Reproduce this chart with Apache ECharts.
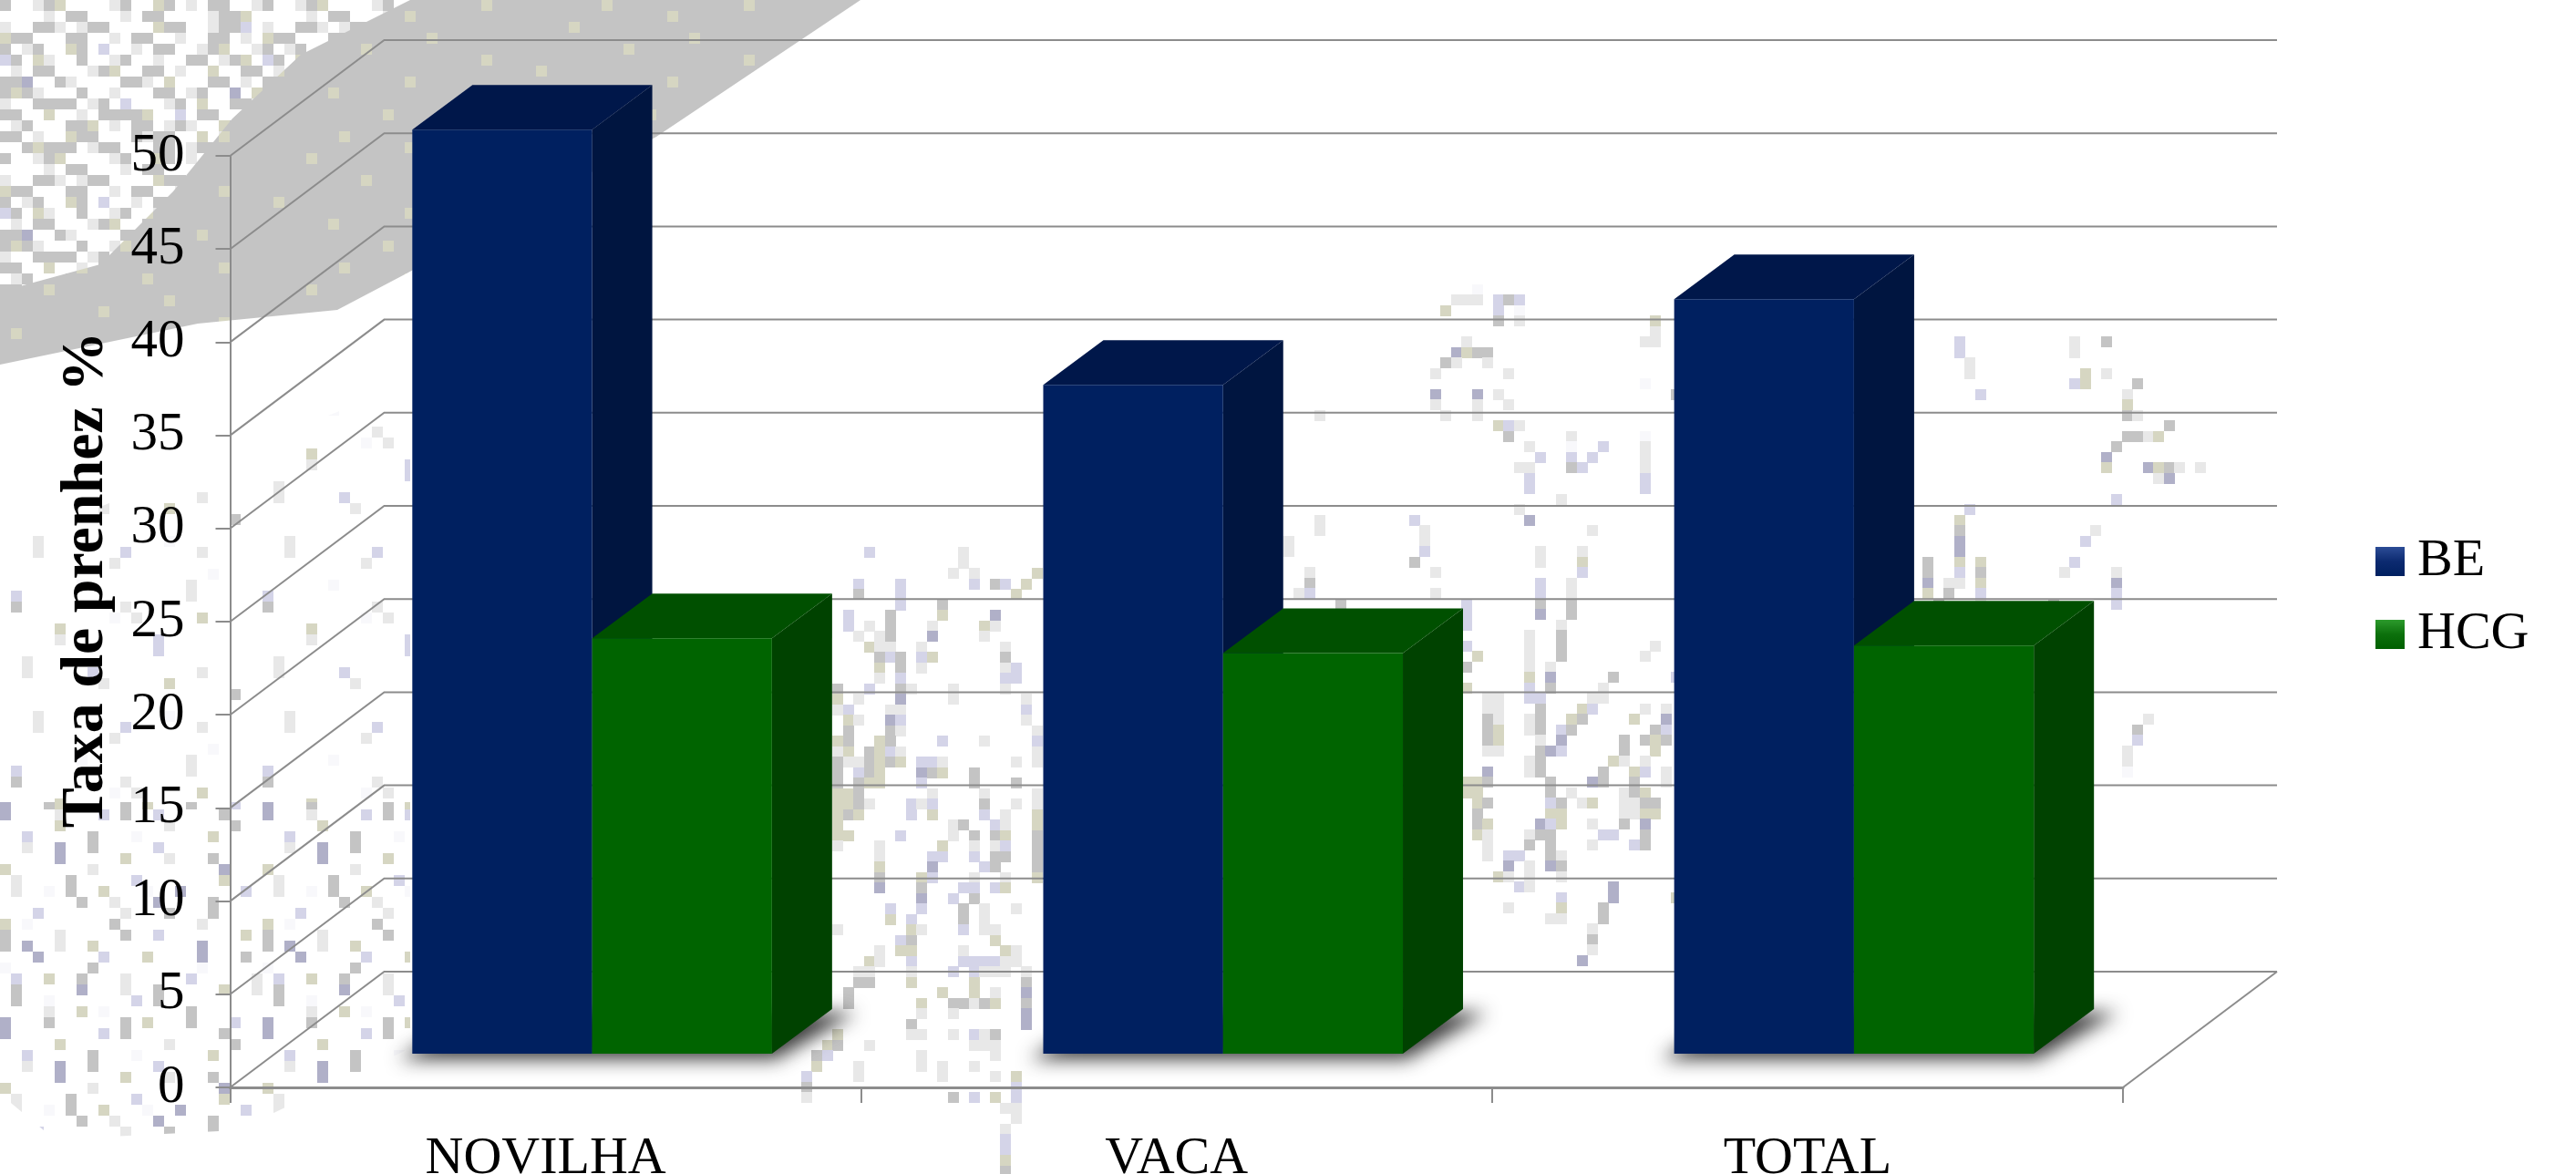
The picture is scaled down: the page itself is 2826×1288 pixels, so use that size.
<!DOCTYPE html>
<html>
<head>
<meta charset="utf-8" />
<title>Taxa de prenhez</title>
<script type="text/javascript" src="https://cdn.jsdelivr.net/npm/echarts@6/dist/echarts.min.js"></script>
<style>
	html,body{margin:0;padding:0;background:#fff;}
	#chart{width:2826px;height:1288px;}
</style>
</head>
<body>
<div id="chart"></div>
<script type="text/javascript">
	var categories = ['NOVILHA','VACA','TOTAL'];
	var seriesNames = ['BE','HCG'];
	var beValues = [49.6,35.9,40.5];
	var hcgValues = [22.3,21.5,21.9];
	var yTicks = [0,5,10,15,20,25,30,35,40,45,50];

	//perspectiva: deslocamento da parede do fundo e da base das barras
	var wallDx = 169, wallDy = -127;
	var barDx = 51, barDy = -37;
	var depthDx = 66, depthDy = -49;
	var serif = '"Liberation Serif","Times New Roman",serif';
	var lineColor = '#8c8c8c';

	//textura do fundo (imagem de baixa resolucao atras do grafico)
	var noiseColors = {g:'#c4c4c4',k:'#d6d6c2',l:'#d4d4e8',w:'#ffffff',e:'#e8e8e8',d:'#b0b0c8',f:'#f8f8fb'};
	var cell = 11.5;
	var tileSolid = [
		'gggggggkggggggggggggkggg','gggggggggggggkgggggggggg','ggggkggggggggggggggggggg','gggggggggggggggkgggggggg',
		'gggggggggkgggggggggggggg','ggggggggggggggggggggkggg','gkgggggggggggggggggggggg','gggggggggggggkgggggggggg',
		'ggggggkggggggggggggggggg','ggggggggggggggggggkggggg','gggggggggggkgggggggggggg','gggggggggggggggggggggggg'
	];
	var tileDense = [
		'gwwegkwwwwegwwkgwewggwwe','wwwwewggwwwewggwwwweggkw','ewwggeweggwwwwkggwwegglw','kggwwwggwwewggwwewwggwew',
		'gwegwwkgwlwwewggwwegkwwe','lgwkewwgwwegwwewwggwegkw','wewggwwwegkwwggwewwkwwgg','ggdwwgewwwwggewkwwwggwew',
		'gkgewwwgwwewwwggwegwwdwk','ewwggggwegwlwwwegwkwwgge','ggwwkwwewggggkwwlwggwwwk','wegwwwggkwewggwegewwkggg',
		'ggwewwkggwwwgeggwwkwewgg','wwgkgggweggwwwggwegggwwg'
	];
	var tileMedium = [
		'.e....g.....l.......k...','.e..f.g..k...f..d.....l.','.......g..e...d....g....','...l.......e...g...g....',
		'k.f.......g.......e.....','g....e.....g..l.......k.','g.d..e..k.........d.....','...d.....l...k....d...g.',
		'f.......g.........f.....','.l..k..g...e.....l.....e','.g.....d...e..g.....k..e','.g..f.......l.g.........',
		'....e..k.f.......g......','d...g......g.k...g...l..','d........l.g........g...','.....k.........e.....g..',
		'..l.....g...f......k....','..e..d..g.....l.........','.....d.....k...e...g....','k.......e...........d...'
	];
	var tileSparse = [
		'.......................','...e...........f.......','...e.......l......e....','..........e............',
		'...................f...','.......f.........e.....','.l...............e.....','.g.........e...........',
		'..........f.e.....k....','.....k.................','.....e........l........','..............l........',
		'..e....................','..e.....l.........e....','.........e.....k.......','.....................g.'
	];
	//regioes da textura: [tile, poligono]
	var noiseAreas = [
		[tileSolid,[[0,0],[944,0],[720,150],[446,300],[370,340],[217,355],[0,400]]],
		[tileDense,[[0,0],[450,0],[330,60],[255,130],[190,210],[110,290],[0,320]]],
		[tileSparse,[[0,600],[450,420],[450,900],[0,900]]],
		[tileMedium,[[0,880],[450,880],[450,1150],[260,1240],[60,1250],[0,1200]]]
	];
	//manchas lidas uma a uma, por linha: "coluna+cor"
	var speckOriginA = [913,600];
	var specksA = [
		'3l 12e','12e','11e 13e 19k','2l 6l 13l 15g 16l 18k','2g 6l 17k','6l 10g','1l 5g 10k 15d','1l 3e 5g 9e 14k 15e',
		'2e 4e 5g 9d 14e','3k 4e 5e 8e 16e','4g 5l 6g 8l 9k 16g','4k 6g 8e 16e 17l','4e 6l 16l 17l','0g 3l 6g 7e 11e 16e',
		'0k 2e 6d 11e 18e','0e 1l 5e 6e 18l','1k 2e 5d 6l 18e','1g 5g 6e 19e','0k 1g 4k 5g 10l 14e 19l','0e 1k 3g 4k 5l 6e 19e',
		'0g 1e 2e 3g 4k 5g 6k 8l 9l 10e 17e 19e','0g 2l 3g 4k 8d 9g 10k 13g','0g 2g 3k 4k 8l 13g 17g','0k 1k 2g 9e 14e 19e',
		'0k 1k 2g 3e 7l 8e 9l 14g 17e 19e','0k 1g 2k 7l 9k 14l 16e 19k','0k 11e 12g 15l 16e 19k','0k 1k 6l 11e 13g 15g 16k 19g',
		'0e 4e 10k 13e 15e 16l 19g','4e 9l 10l 13l 15g 16g 19g','4k 9d 14l 15g 19g','4g 8k 9l 13e 16e 19k','4d 8g 12l 13l 15l 16k',
		'8d 11l 13g','5l 8l 12g 14e 17e','5k 7l 12g 14e','0e 7k 8e 12l 14e 15e','6l 7g 15k','4e 6k 7k 12e 16k 17e',
		'3k 4e 7l 12l 13l 14l 15l 16e 17e','2e 3e 7e 11l 13l 14e 15e 16e 18e','2g 3g 7k 13k 18g','1g 10k 13k 15e 18d',
		'1g 8k 11g 12g 13e 14g 15k 18g','8e 11e 18d','7g 18d','0k 7e 8e 11e 13l 14e 15g','-1k 0g 3e 13e 14e 15e',
		'-2g -1l 8e 15e','-2k 2e 8e 10e 13e','-3l 2e 10e 15e 17k','-3g 17l','-3e 11g 13l 15k 17l','16e 17e','17e','16e','16l','16l','16k','16g'
	];
	var speckOriginB = [1350,300];
	var specksB = [
		'','23f','21e 22e 23e 25l 26g 27l','20k 25l 27f','25g 27e 40k','40e','22e 39e 40e 69l 80e 83g','21d 22k 23g 24g 69l 80e',
		'20g 21e 24e 70e','19e 26e 70e 81k 83e','39f 80l 81k 86g','19d 23d 25e 42g 71l 85e','19e 23e 26e 85k','8e 20e 23e 85g 86e',
		'25k 26l 27e 89g','26g 32e 39f 85g 86g 87e 88k','28e 32f 35l 39e 84g','29l 32l 34l 39e 83d','27e 28e 32g 33l 39e 83k 87d 88k 89g 90e 92e',
		'28l 39l 88e 89d','28l 39l','31e 84l','27e 70l','8e 17l 28d 69k','8e 18e 34e 69g 82e','5e 18e 69d 81l','5e 18l 29e 33e 69d',
		'17g 29e 33k 66g 69k 71k 80l','7e 19e 33l 66g 69l 71g 79e 84e','7g 29l 32e 66d 68e 69e 71k 84d','6e 7l 19e 29l 32e 66k 68g 71l 84l',
		'10g 22l 29g 32g 67g 71e 78g 84l','22l 29d 32g','22l 31e','28e 31g','22l 28e 31g 40e','23k 28e 31g 39e','22g 28e 30e',
		'28k 30d 36g 42l','22k 28l 30g 35e','24e 25e 28l 29l 34e 35e','24e 25e 29g 33k 34l 39e 41e','24g 25e 28e 29g 32k 33g 38k 41d 87e',
		'24g 25k 28e 29g 31l 32g 40g 41l 86g','24g 25k 29e 31d 37g 39g 40k 41g 86l','24e 25e 29g 30d 31l 37g 40k 85e','28e 29g 36k 37e 39e 85e',
		'24d 28e 29g 35g 38k 39l 41e 85f','22k 23k 24g 30g 34d 35g 38g 41e','22k 23k 30g 32e 37e 38g 39k','23k 24g 30l 31g 33e 34k 37e 38e 39g 40g',
		'23g 30k 31k 37e 38e 39k 40k','23g 24k 29d 30l 31k 34e 37g 39d','23k 24e 28e 29g 30g 35l 36l 39g','24e 28g 30g 34e 38l 39g',
		'24e 26l 27l 30g 31e','26d 28e 30d 31g','25k 26e 28e 31e','27l 28e 36d','31l 36d 42k','26e 31k 35g','30e 31e 35g','34e','34g','34e','33d'
	];

	var chart = echarts.init(document.getElementById('chart'));

	function makeTile(rows){
		var size = 12;
		var canvas = document.createElement('canvas');
		canvas.width = rows[0].length*size;
		canvas.height = rows.length*size;
		var ctx = canvas.getContext('2d');
		for(var r=0;r<rows.length;r++){
			for(var c=0;c<rows[r].length;c++){
				var color = noiseColors[rows[r].charAt(c)];
				if(color){
					ctx.fillStyle = color;
					ctx.fillRect(c*size,r*size,size,size);
				}
			}
		}
		return canvas;
	}

	//desenha as manchas de uma lista numa camada do tamanho da pagina
	function makeSpecks(rows,origin){
		var canvas = document.createElement('canvas');
		canvas.width = 2826;
		canvas.height = 1288;
		var ctx = canvas.getContext('2d');
		rows.forEach(function(row,r){
			row.split(' ').forEach(function(tok){
				var m = /^(-?\d+)([a-z])$/.exec(tok);
				if(!m) return;
				ctx.fillStyle = noiseColors[m[2]];
				ctx.fillRect(Math.round(origin[0]+m[1]*cell),Math.round(origin[1]+r*cell),12,12);
			});
		});
		return canvas;
	}

	var backdrop = noiseAreas.map(function(a){
		return {type:'polygon',z:0,silent:true,shape:{points:a[1]},
			style:{fill:{image:makeTile(a[0]),repeat:'repeat'}}};
	});
	backdrop.push({type:'image',z:0,silent:true,style:{image:makeSpecks(specksA,speckOriginA),x:0,y:0,width:2826,height:1288}});
	backdrop.push({type:'image',z:0,silent:true,style:{image:makeSpecks(specksB,speckOriginB),x:0,y:0,width:2826,height:1288}});

	//paredes: linhas de grade em perspectiva
	function renderWall(params,api){
		var v = api.value(0);
		var left = api.coord([0,v]);
		var band = api.size([1,0])[0];
		var x0 = left[0]-band/2;
		var x1 = x0+band*categories.length;
		var y = left[1];
		var kids = [];
		kids.push({type:'polyline',shape:{points:[[x0,y],[x0+wallDx,y+wallDy],[x1+wallDx,y+wallDy]]},
			style:{fill:'none',stroke:lineColor,lineWidth:2}});
		if(v===0){
			kids.push({type:'line',shape:{x1:x1,y1:y,x2:x1+wallDx,y2:y+wallDy},style:{stroke:lineColor,lineWidth:2}});
		}
		return {type:'group',children:kids};
	}

	//sombra no chao: so o borrado aparece, a forma fica fora da tela
	function renderShadow(params,api){
		var c = api.coord([api.value(0),0]);
		var band = api.size([1,0])[0];
		var w = band*0.285;
		var off = 3000;
		var l = c[0]-w+barDx-off, r = c[0]+w+barDx-off, b = c[1]+barDy;
		return {type:'polygon',shape:{points:[[l-14,b+6],[r+4,b+6],[r+depthDx+26,b+depthDy+4],[l+depthDx,b+depthDy+4]]},
			style:{fill:'#000',shadowBlur:20,shadowOffsetX:off,shadowColor:'rgba(50,50,50,0.95)'}};
	}

	//barra com frente, lateral e topo
	function makeBar(index,colors){
		return function(params,api){
			var c = api.coord([api.value(0),0]);
			var t = api.coord([api.value(0),api.value(1)]);
			var band = api.size([1,0])[0];
			var w = band*0.285;
			var l = c[0]+barDx-w+index*w, r = l+w;
			var b = c[1]+barDy, top = t[1]+barDy;
			return {type:'group',children:[
				{type:'polygon',shape:{points:[[r,top],[r+depthDx,top+depthDy],[r+depthDx,b+depthDy],[r,b]]},style:{fill:colors[1]}},
				{type:'polygon',shape:{points:[[l,top],[l+depthDx,top+depthDy],[r+depthDx,top+depthDy],[r,top]]},style:{fill:colors[2]}},
				{type:'rect',shape:{x:l,y:top,width:w,height:b-top},style:{fill:colors[0]}}
			]};
		};
	}

	function pairs(values){
		return values.map(function(v,i){return [i,v];});
	}

	var option = {
		animation:false,
		backgroundColor:'#fff',
		graphic:backdrop,
		legend:{
			orient:'vertical',left:2601,top:582,itemWidth:32,itemHeight:32,itemGap:22,
			icon:'rect',
			textStyle:{fontFamily:serif,fontSize:58,color:'#000',padding:[0,0,0,9]},
			data:[
				{name:'BE',itemStyle:{color:{type:'linear',x:0,y:0,x2:0,y2:1,colorStops:[{offset:0,color:'#2c4c96'},{offset:0.5,color:'#0c2a70'},{offset:1,color:'#002060'}]}}},
				{name:'HCG',itemStyle:{color:{type:'linear',x:0,y:0,x2:0,y2:1,colorStops:[{offset:0,color:'#2c9a2c'},{offset:0.5,color:'#0c700c'},{offset:1,color:'#006000'}]}}}
			]
		},
		grid:{left:252.5,right:497,top:171,bottom:95,outerBoundsMode:'none'},
		xAxis:{
			type:'category',data:categories,
			axisLine:{lineStyle:{color:lineColor,width:3}},
			axisTick:{show:true,alignWithLabel:false,length:17,lineStyle:{color:lineColor,width:2}},
			axisLabel:{fontFamily:serif,fontSize:58,color:'#000',margin:50},
			z:3
		},
		yAxis:{
			type:'value',min:0,max:50,interval:5,
			name:'Taxa de prenhez %',nameLocation:'middle',nameGap:125,
			nameRotate:90,
			nameTextStyle:{fontFamily:serif,fontSize:66,fontWeight:'bold',color:'#000',padding:[0,0,0,92]},
			axisLine:{show:true,lineStyle:{color:lineColor,width:2}},
			axisTick:{show:true,length:16,lineStyle:{color:lineColor,width:2}},
			axisLabel:{fontFamily:serif,fontSize:59,color:'#000',margin:50,padding:[4,0,0,0]},
			splitLine:{show:false}
		},
		series:[
			{type:'custom',name:'parede',coordinateSystem:'cartesian2d',z:1,silent:true,renderItem:renderWall,
				data:yTicks.map(function(v){return [v];}),encode:{y:0}},
			{type:'custom',name:'sombra',coordinateSystem:'cartesian2d',z:2,silent:true,renderItem:renderShadow,
				data:categories.map(function(c,i){return [i];}),encode:{x:0}},
			{type:'custom',name:seriesNames[0],coordinateSystem:'cartesian2d',z:3,
				renderItem:makeBar(0,['#002060','#001540','#00174a']),
				itemStyle:{color:'#002060'},data:pairs(beValues),encode:{x:0,y:1}},
			{type:'custom',name:seriesNames[1],coordinateSystem:'cartesian2d',z:4,
				renderItem:makeBar(1,['#006400','#004200','#005000']),
				itemStyle:{color:'#006400'},data:pairs(hcgValues),encode:{x:0,y:1}}
		]
	};
	chart.setOption(option);
</script>
</body>
</html>
